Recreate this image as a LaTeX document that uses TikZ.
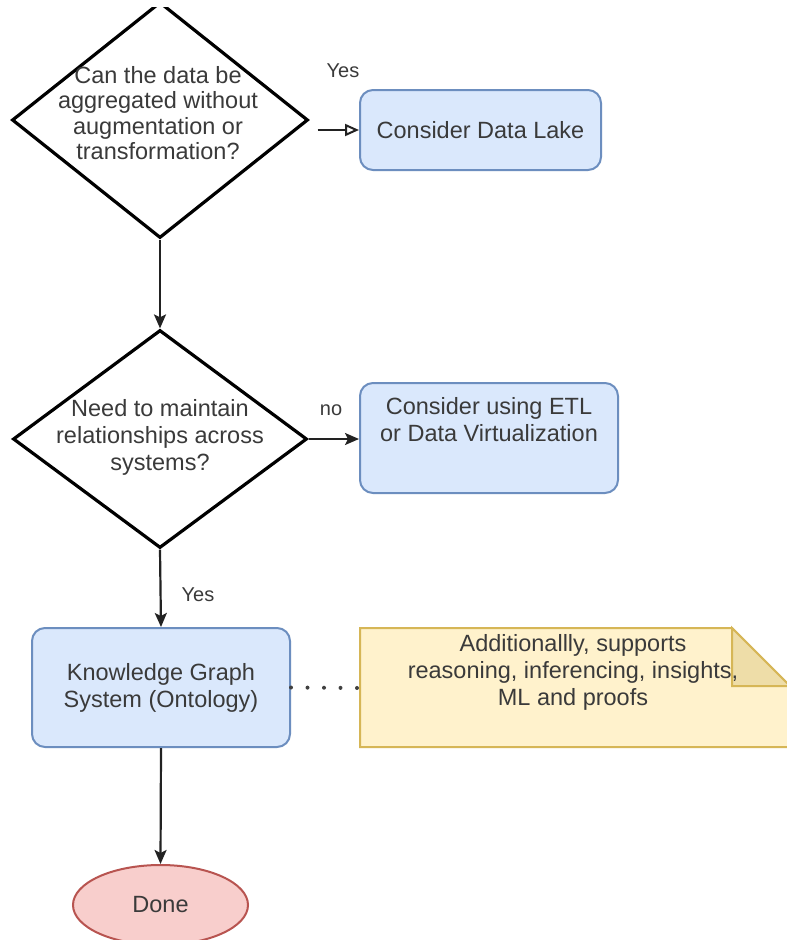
\documentclass[tikz,border=0pt]{standalone}
\usepackage{fontspec}
\setmainfont{Liberation Sans}
\usetikzlibrary{shapes.geometric,arrows.meta}
\definecolor{txt}{HTML}{3A3A3A}
\definecolor{lineclr}{HTML}{222222}
\definecolor{bluefill}{HTML}{DAE8FC}
\definecolor{blueline}{HTML}{6C8EBF}
\definecolor{notefill}{HTML}{FFF2CC}
\definecolor{noteline}{HTML}{D6B656}
\definecolor{notefold}{HTML}{EEDDA8}
\definecolor{redfill}{HTML}{F8CECC}
\definecolor{redline}{HTML}{B85450}
\begin{document}
\begin{tikzpicture}[x=1pt,y=-1pt,
  every node/.style={font=\fontsize{23.5}{27}\selectfont, text=txt, align=center},
  decision/.style={diamond, draw=black, line width=3.2pt, inner sep=0pt},
  bluebox/.style={rectangle, rounded corners=13pt, draw=blueline, fill=bluefill, line width=2pt, inner sep=0pt},
  txtnode/.style={inner sep=0pt},
  lbl/.style={font=\fontsize{20}{23}\selectfont, inner sep=0pt},
  conn/.style={draw=lineclr, line width=2.2pt, -{Stealth[length=14pt,width=12pt,inset=3pt]}},
  openconn/.style={draw=lineclr, line width=2.2pt, -{Triangle[open,length=14pt,width=12pt,line width=2pt]}},
  dotconn/.style={draw=black!75, line width=4pt, line cap=round, dash pattern=on 0pt off 16.5pt}
]
\path[fill=white, use as bounding box] (0,0) rectangle (787,940);
\clip (0,7) rectangle (787,940);

% decisions
\node[decision, minimum width=296pt, minimum height=236pt] (d1) at (160,120) {};
\node[txtnode, font=\fontsize{23.5}{25.5}\selectfont] (d1t) at (158,113) {Can the data be\\aggregated without\\augmentation or\\transformation?};

\node[decision, minimum width=294pt, minimum height=218pt] (d2) at (160,439) {};
\node[txtnode] (d2t) at (160,437) {Need to maintain\\relationships across\\systems?};

% boxes
\node[bluebox, minimum width=241pt, minimum height=80pt] (lake) at (480.5,130) {Consider Data Lake};
\node[bluebox, minimum width=258pt, minimum height=110pt] (etl) at (489,438) {};
\node[txtnode] (etlt) at (489,420) {Consider using ETL\\or Data Virtualization};
\node[bluebox, minimum width=258pt, minimum height=119pt] (kg) at (161,687.5) {Knowledge Graph\\System (Ontology)};

% note
\path[fill=notefill, draw=noteline, line width=2pt]
  (360,628) -- (732,628) -- (790,686) -- (790,747) -- (360,747) -- cycle;
\path[fill=notefold, draw=noteline, line width=2pt]
  (732,628) -- (732,686) -- (790,686) -- cycle;
\coordinate (notew) at (360,688);
\node[txtnode] (notet) at (573,672) {Additionallly, supports\\reasoning, inferencing, insights,\\ML and proofs};

% terminal
\node[ellipse, draw=redline, fill=redfill, line width=2pt, minimum width=175pt, minimum height=80pt, inner sep=0pt] (done) at (160.5,905) {Done};

% connectors
\draw[openconn, shorten <=8pt] (d1.east |- lake.west) -- (lake.west);
\draw[conn] (d1.south) -- (d2.north);
\draw[conn] (d2.east) -- (d2.east -| etl.west);
\draw[conn] (d2.south) -- (kg.north);
\draw[conn] (kg.south) -- (done.north);
\draw[dotconn] (kg.east) -- (notew);

% labels
\node[lbl] (yes1) at (343,71) {Yes};
\node[lbl] (no1) at (331,410) {no};
\node[lbl] (yes2) at (198,595) {Yes};
\end{tikzpicture}
\end{document}
